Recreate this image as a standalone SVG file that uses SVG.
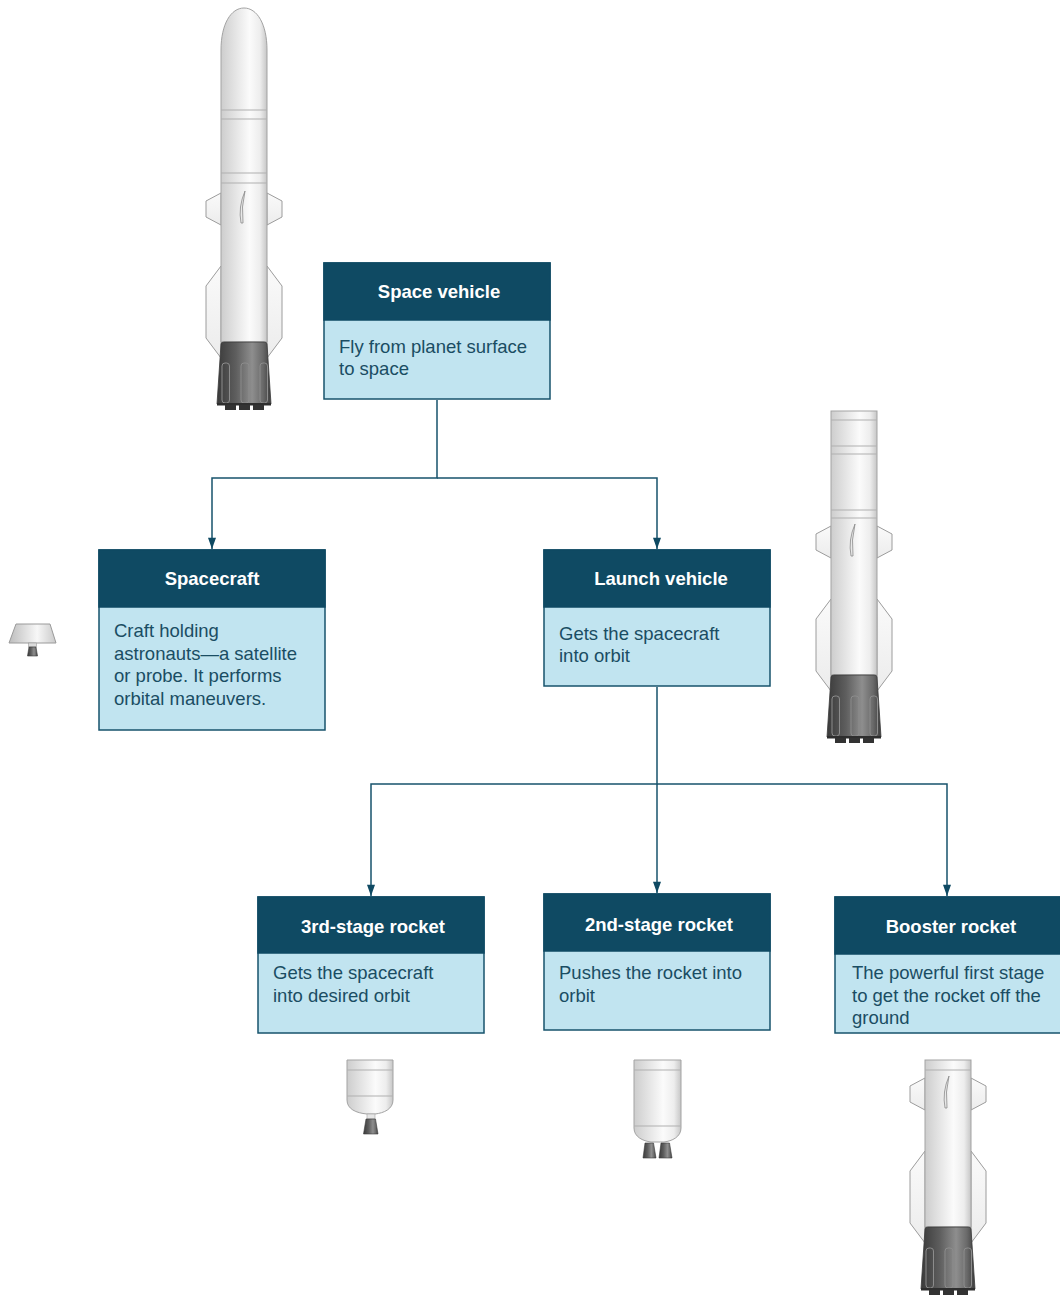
<svg xmlns="http://www.w3.org/2000/svg" width="1060" height="1296" viewBox="0 0 1060 1296">
  <defs>
    <linearGradient id="bodyGrad" x1="0" y1="0" x2="1" y2="0">
      <stop offset="0" stop-color="#cdcdcd"/>
      <stop offset="0.2" stop-color="#dcdcdc"/>
      <stop offset="0.62" stop-color="#fbfbfb"/>
      <stop offset="0.85" stop-color="#ededed"/>
      <stop offset="1" stop-color="#c6c6c6"/>
    </linearGradient>
    <linearGradient id="finGrad" x1="0" y1="0" x2="0" y2="1">
      <stop offset="0" stop-color="#fafafa"/>
      <stop offset="1" stop-color="#ececec"/>
    </linearGradient>
    <linearGradient id="nozzleGrad" x1="0" y1="0" x2="1" y2="0">
      <stop offset="0" stop-color="#3a3a3a"/>
      <stop offset="0.35" stop-color="#5e5e5e"/>
      <stop offset="0.65" stop-color="#8e8e8e"/>
      <stop offset="0.85" stop-color="#6a6a6a"/>
      <stop offset="1" stop-color="#3c3c3c"/>
    </linearGradient>
    <linearGradient id="capGrad" x1="0" y1="0" x2="1" y2="0">
      <stop offset="0" stop-color="#bdbdbd"/>
      <stop offset="0.6" stop-color="#f7f7f7"/>
      <stop offset="1" stop-color="#c9c9c9"/>
    </linearGradient>
    <marker id="arrow" viewBox="0 0 14 10" refX="14" refY="5" markerWidth="12" markerHeight="8" markerUnits="userSpaceOnUse" orient="auto">
      <path d="M0,0 L14,5 L0,10 Z" fill="#0f4a63"/>
    </marker>

    <!-- fins: drawn behind the body, origin = body left edge / nozzle top -->
    <g id="fins">
      <polygon class="fin" points="0,-149 -15,-141 -15,-125 0,-117"/>
      <polygon class="fin" points="46,-149 61,-141 61,-125 46,-117"/>
      <polygon class="fin" points="0,-76 -15,-56 -15,-4 0,16"/>
      <polygon class="fin" points="46,-76 61,-56 61,-4 46,16"/>
    </g>
    <!-- slot on the body and the engine block -->
    <g id="engine">
      <path class="slot" d="M24,-151 Q17,-135 20,-119 L22,-119 Q20,-135 24,-151 Z"/>
      <path d="M0,2 Q0,0 3,0 L43,0 Q46,0 46,2 L50,62 L-4,62 Z" fill="url(#nozzleGrad)" stroke="#3a3a3a" stroke-width="0.8"/>
      <rect x="1" y="21" width="7.5" height="40" rx="3" class="groove"/>
      <rect x="20" y="21" width="8" height="40" rx="3" class="groove"/>
      <rect x="39" y="21" width="7.5" height="40" rx="3" class="groove"/>
      <rect x="-4" y="61" width="54" height="2.5" fill="#2e2e2e"/>
      <rect x="4" y="63" width="11" height="5" fill="#333"/>
      <rect x="18" y="63" width="11" height="5" fill="#333"/>
      <rect x="32" y="63" width="11" height="5" fill="#333"/>
    </g>

    <style>
      .fin { fill: url(#finGrad); stroke: #9c9c9c; stroke-width: 1; }
      .body { fill: url(#bodyGrad); stroke: #a3a3a3; stroke-width: 1; }
      .band { stroke: #b0b0b0; stroke-width: 1.2; }
      .slot { fill: #e8e8e8; stroke: #8a8a8a; stroke-width: 0.8; }
      .groove { fill: none; stroke: #8c8c8c; stroke-width: 1; }
      .dark { fill: url(#nozzleGrad); stroke: #3a3a3a; stroke-width: 0.6; }
      .head { fill: #0f4a63; stroke: #0f4a63; stroke-width: 1.5; }
      .card { fill: #c1e4f0; stroke: #17536c; stroke-width: 1.5; }
      .title { font-family: "Liberation Sans", Arial, sans-serif; font-weight: bold; font-size: 18.5px; fill: #ffffff; text-anchor: middle; }
      .desc { font-family: "Liberation Sans", Arial, sans-serif; font-size: 18.5px; fill: #1a4d63; }
      .link { fill: none; stroke: #17536c; stroke-width: 1.5; }
    </style>
  </defs>

  <rect width="1060" height="1296" fill="#ffffff"/>

  <!-- full rocket with nose cone -->
  <g id="rocket-full" transform="translate(221,342)">
    <use href="#fins"/>
    <path class="body" d="M0,0 L0,-292 C0,-318 10,-334 23,-334 C36,-334 46,-318 46,-292 L46,0 Z"/>
    <line class="band" x1="0" y1="-232" x2="46" y2="-232"/>
    <line class="band" x1="0" y1="-223" x2="46" y2="-223"/>
    <line class="band" x1="0" y1="-169" x2="46" y2="-169"/>
    <line class="band" x1="0" y1="-159" x2="46" y2="-159"/>
    <use href="#engine"/>
  </g>

  <!-- launch vehicle: rocket without the payload stage -->
  <g id="rocket-launch" transform="translate(831,675)">
    <use href="#fins"/>
    <rect class="body" x="0" y="-264" width="46" height="264"/>
    <line class="band" x1="0" y1="-255" x2="46" y2="-255"/>
    <line class="band" x1="0" y1="-229" x2="46" y2="-229"/>
    <line class="band" x1="0" y1="-221" x2="46" y2="-221"/>
    <line class="band" x1="0" y1="-165" x2="46" y2="-165"/>
    <line class="band" x1="0" y1="-157" x2="46" y2="-157"/>
    <use href="#engine"/>
  </g>

  <!-- booster stage alone -->
  <g id="rocket-booster" transform="translate(925,1227)">
    <use href="#fins"/>
    <rect class="body" x="0" y="-167" width="46" height="167"/>
    <line class="band" x1="0" y1="-157" x2="46" y2="-157"/>
    <use href="#engine"/>
  </g>

  <!-- spacecraft capsule -->
  <g id="capsule">
    <polygon points="16,624 50,624 56,643 9,643" fill="url(#capGrad)" stroke="#9a9a9a" stroke-width="1"/>
    <rect x="28.5" y="643" width="8" height="4" fill="#dcdcdc" stroke="#9a9a9a" stroke-width="0.6"/>
    <path class="dark" d="M29,647 L36,647 L37.5,656 L27.5,656 Z"/>
  </g>

  <!-- third stage -->
  <g id="stage-third">
    <path class="body" d="M347,1060 L393,1060 L393,1100 C393,1109 384,1113 375,1114 L367,1114 C356,1113 347,1109 347,1100 Z"/>
    <line class="band" x1="347" y1="1070" x2="393" y2="1070"/>
    <line class="band" x1="347" y1="1096" x2="393" y2="1096"/>
    <rect x="367" y="1114" width="8" height="5" fill="#e6e6e6" stroke="#a0a0a0" stroke-width="0.6"/>
    <path class="dark" d="M366,1119 L375.5,1119 L378,1134 L363.5,1134 Z"/>
  </g>

  <!-- second stage -->
  <g id="stage-second">
    <path class="body" d="M634,1060 L681,1060 L681,1128 C681,1137 672,1141 664,1142 L651,1142 C643,1141 634,1137 634,1128 Z"/>
    <line class="band" x1="634" y1="1070" x2="681" y2="1070"/>
    <line class="band" x1="634" y1="1126" x2="681" y2="1126"/>
    <path class="dark" d="M645,1143 L653.5,1143 L656,1158 L643,1158 Z"/>
    <path class="dark" d="M661,1143 L669.5,1143 L672,1158 L659,1158 Z"/>
  </g>

  <!-- connectors -->
  <g id="connectors">
    <path class="link" d="M437,400 V478 H212 V549" marker-end="url(#arrow)"/>
    <path class="link" d="M437,478 H657 V549" marker-end="url(#arrow)"/>
    <path class="link" d="M657,687 V784 H371 V896" marker-end="url(#arrow)"/>
    <path class="link" d="M657,784 V893" marker-end="url(#arrow)"/>
    <path class="link" d="M657,784 H947 V896" marker-end="url(#arrow)"/>
  </g>

  <!-- nodes -->
  <g id="node-space-vehicle">
    <rect class="card" x="324" y="263" width="226" height="136"/>
    <rect class="head" x="324" y="263" width="226" height="57"/>
    <text class="title" x="439" y="298">Space vehicle</text>
    <text class="desc" x="339" y="353">Fly from planet surface</text>
    <text class="desc" x="339" y="375">to space</text>
  </g>

  <g id="node-spacecraft">
    <rect class="card" x="99" y="550" width="226" height="180"/>
    <rect class="head" x="99" y="550" width="226" height="57"/>
    <text class="title" x="212" y="585">Spacecraft</text>
    <text class="desc" x="114" y="637">Craft holding</text>
    <text class="desc" x="114" y="659.5">astronauts—a satellite</text>
    <text class="desc" x="114" y="682">or probe. It performs</text>
    <text class="desc" x="114" y="704.5">orbital maneuvers.</text>
  </g>

  <g id="node-launch-vehicle">
    <rect class="card" x="544" y="550" width="226" height="136"/>
    <rect class="head" x="544" y="550" width="226" height="57"/>
    <text class="title" x="661" y="585">Launch vehicle</text>
    <text class="desc" x="559" y="640">Gets the spacecraft</text>
    <text class="desc" x="559" y="662">into orbit</text>
  </g>

  <g id="node-third-stage">
    <rect class="card" x="258" y="897" width="226" height="136"/>
    <rect class="head" x="258" y="897" width="226" height="56"/>
    <text class="title" x="373" y="933">3rd-stage rocket</text>
    <text class="desc" x="273" y="979">Gets the spacecraft</text>
    <text class="desc" x="273" y="1002">into desired orbit</text>
  </g>

  <g id="node-second-stage">
    <rect class="card" x="544" y="894" width="226" height="136"/>
    <rect class="head" x="544" y="894" width="226" height="57"/>
    <text class="title" x="659" y="931">2nd-stage rocket</text>
    <text class="desc" x="559" y="979">Pushes the rocket into</text>
    <text class="desc" x="559" y="1002">orbit</text>
  </g>

  <g id="node-booster">
    <rect class="card" x="835" y="897" width="234" height="136"/>
    <rect class="head" x="835" y="897" width="234" height="57"/>
    <text class="title" x="951" y="933">Booster rocket</text>
    <text class="desc" x="852" y="979">The powerful first stage</text>
    <text class="desc" x="852" y="1001.5">to get the rocket off the</text>
    <text class="desc" x="852" y="1024">ground</text>
  </g>
</svg>
